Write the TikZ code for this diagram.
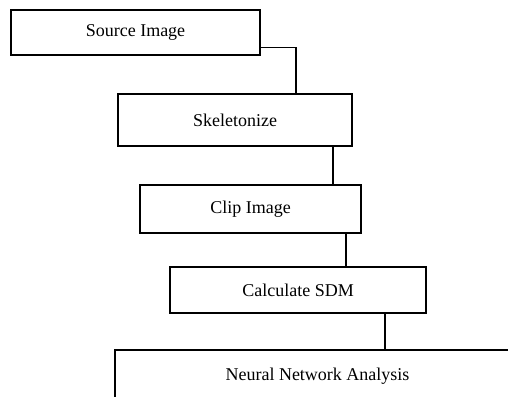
\documentclass[tikz,border=0pt]{standalone}
\usepackage{fontspec}
\setmainfont{Liberation Serif}
\begin{document}
\begin{tikzpicture}[x=1pt,y=-1pt,
  stepbox/.style={draw=black,line width=1.4pt,rectangle,inner sep=0pt,
    font=\fontsize{18}{20}\selectfont,fill=none},
  link/.style={draw=black,line width=1.4pt}]
\useasboundingbox (0,0) rectangle (508,396);
\clip (0,0) rectangle (508,396);
\node[stepbox,minimum width=249pt,minimum height=45pt] (src) at (135.5,32.5) {Source Image};
\node[stepbox,minimum width=234pt,minimum height=52pt] (skel) at (235,120) {Skeletonize};
\node[stepbox,minimum width=221pt,minimum height=48pt] (clip) at (250.5,209) {Clip Image};
\node[stepbox,minimum width=256pt,minimum height=46pt] (sdm) at (298,290) {Calculate SDM};
\node[stepbox,minimum width=405pt,minimum height=52pt] (nna) at (317.5,376) {Neural Network Analysis};
\draw[link] ([yshift=8pt]src.south east) -| ([xshift=61pt]skel.north);
\draw[link] ([xshift=98pt]skel.south) -- ([xshift=98pt]skel.south |- clip.north);
\draw[link] ([xshift=95.5pt]clip.south) -- ([xshift=95.5pt]clip.south |- sdm.north);
\draw[link] ([xshift=87pt]sdm.south) -- ([xshift=87pt]sdm.south |- nna.north);
\end{tikzpicture}
\end{document}
